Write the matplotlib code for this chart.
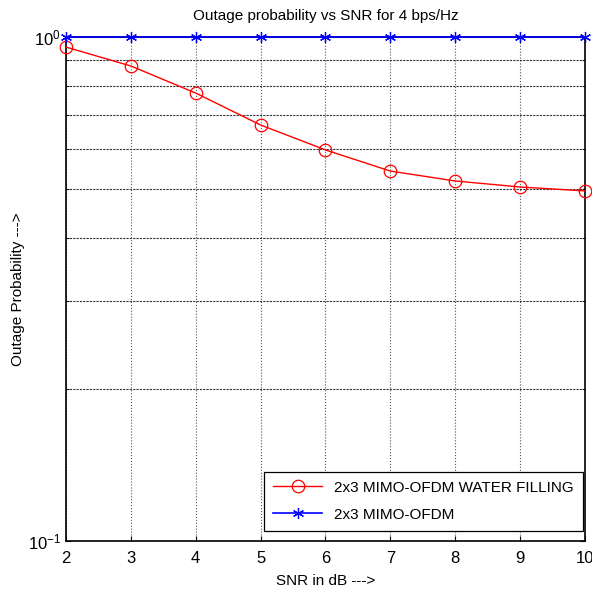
import numpy as np
import matplotlib.pyplot as plt
from matplotlib.ticker import LogLocator, NullFormatter

plt.rcParams['font.family'] = ['Liberation Sans', 'DejaVu Sans']

# SNR values and outage probabilities
snr_db = [2, 3, 4, 5, 6, 7, 8, 9, 10]
outage_wf = [0.955, 0.876, 0.774, 0.669, 0.597, 0.542, 0.518, 0.504, 0.495]
outage_plain = [1.0, 1.0, 1.0, 1.0, 1.0, 1.0, 1.0, 1.0, 1.0]

fig = plt.figure(figsize=(5.92, 5.95), dpi=100)
ax = fig.add_axes([0.1115, 0.0908, 0.8765, 0.847])

ax.semilogy(snr_db, outage_wf, color='red', marker='o', markersize=9,
            markerfacecolor='none', markeredgewidth=0.9, linewidth=1.0,
            label='2x3 MIMO-OFDM WATER FILLING', clip_on=False, zorder=3)
# MATLAB-style thin asterisk marker
ax.semilogy(snr_db, outage_plain, color='blue', marker=(6, 2, 0), markersize=8,
            markeredgewidth=0.9, linewidth=1.2, label='2x3 MIMO-OFDM',
            clip_on=False, zorder=4)

ax.set_xlim(2, 10)
ax.set_ylim(0.1, 1)
ax.set_xticks(snr_db)
ax.yaxis.set_major_locator(LogLocator(base=10))
ax.yaxis.set_minor_locator(LogLocator(base=10, subs=np.arange(2, 10)))
ax.yaxis.set_minor_formatter(NullFormatter())

ax.grid(True, which='major', axis='x', linestyle=':', color='#555555', linewidth=0.8)
ax.grid(True, which='both', axis='y', linestyle=(0, (2, 1)), color='#333333', linewidth=0.8)

ax.tick_params(which='both', direction='in', top=True, right=True, labelsize=12)
ax.tick_params(axis='x', pad=7)
for s in ax.spines.values():
    s.set_linewidth(1.2)

ax.set_title('Outage probability vs SNR for 4 bps/Hz', fontsize=11, pad=12)
ax.set_xlabel('SNR in dB --->', fontsize=11, labelpad=6)
ax.set_ylabel('Outage Probability --->', fontsize=11, labelpad=2)

leg = ax.legend(loc='lower right', bbox_to_anchor=(0.9848, 0.1076),
                bbox_transform=fig.transFigure, borderaxespad=0,
                fontsize=11, fancybox=False, edgecolor='black', framealpha=1,
                handlelength=3.2, labelspacing=0.85, borderpad=0.6)
leg.get_frame().set_linewidth(0.9)

fig.savefig('out.png', dpi=100)
